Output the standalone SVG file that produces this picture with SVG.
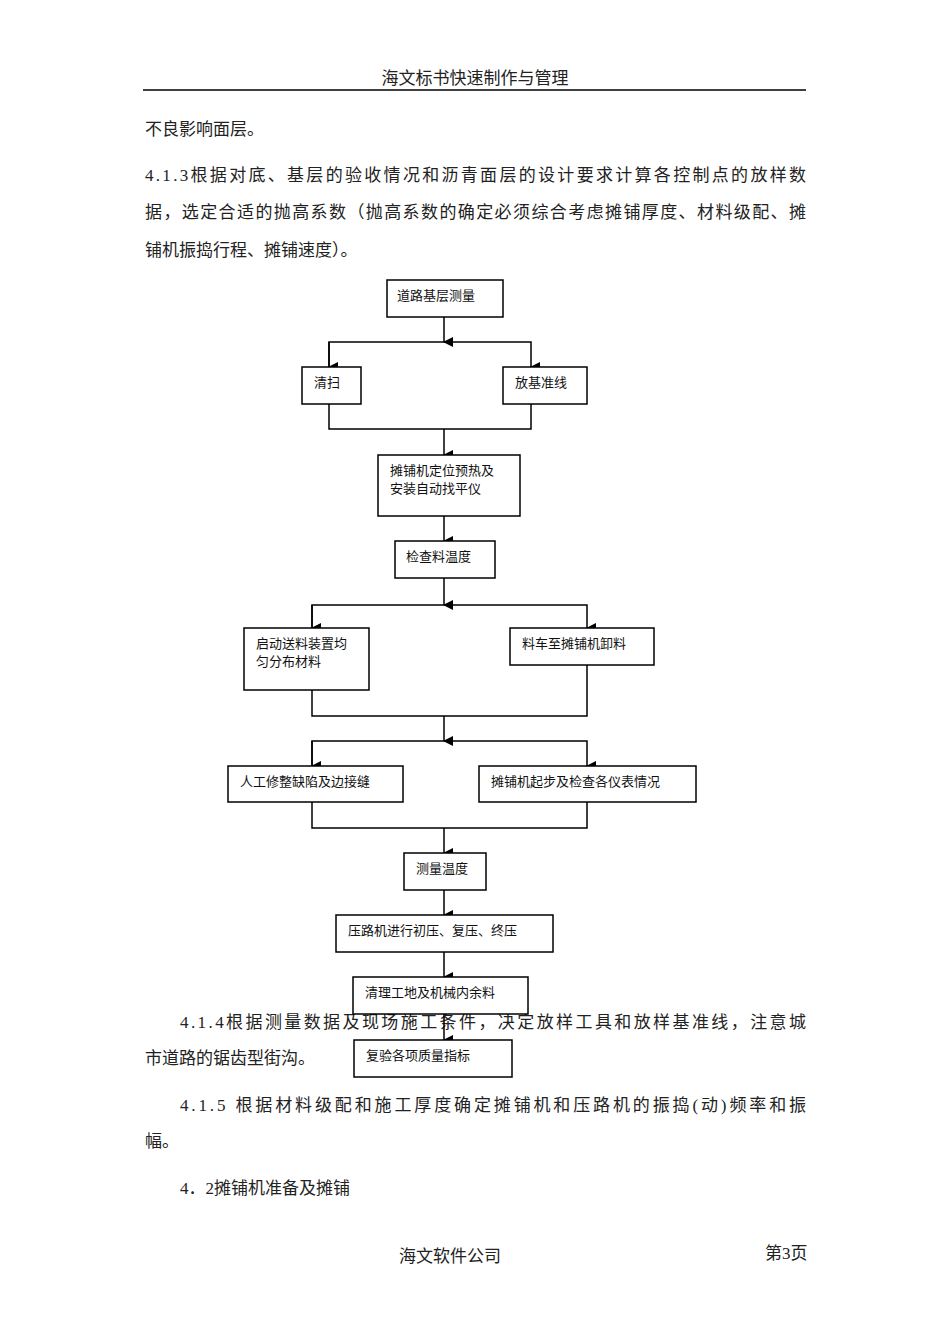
<svg xmlns="http://www.w3.org/2000/svg" width="950" height="1344" viewBox="0 0 950 1344">
<style>
.t{font-family:"Liberation Serif","Noto Sans CJK SC",serif;font-size:17px;fill:#222}
.b rect{fill:#fff;stroke:#000;stroke-width:1.5}
.b text{font-family:"Noto Sans CJK SC",sans-serif;font-size:13px;fill:#111}
#c path{fill:none;stroke:#000;stroke-width:1.5}
</style>
<defs><marker id="a" markerWidth="10" markerHeight="10" refX="5" refY="9" orient="auto" markerUnits="userSpaceOnUse"><path d="M0,0 L10,0 L5,10 Z" fill="#000"/></marker></defs>
<rect width="950" height="1344" fill="#fff"/>
<text class="t" x="475" y="84" text-anchor="middle" font-size="16">海文标书快速制作与管理</text>
<line x1="143" y1="90" x2="806" y2="90" stroke="#000" stroke-width="1.5"/>
<text class="t" x="145" y="135">不良影响面层。</text>
<text class="t" x="145" y="181" textLength="661" lengthAdjust="spacing">4.1.3根据对底、基层的验收情况和沥青面层的设计要求计算各控制点的放样数</text>
<text class="t" x="145" y="218" textLength="661" lengthAdjust="spacing">据，选定合适的抛高系数（抛高系数的确定必须综合考虑摊铺厚度、材料级配、摊</text>
<text class="t" x="145" y="256">铺机振捣行程、摊铺速度）。</text>
<text class="t" x="180" y="1028" textLength="626" lengthAdjust="spacing">4.1.4根据测量数据及现场施工条件，决定放样工具和放样基准线，注意城</text>
<text class="t" x="145" y="1064">市道路的锯齿型街沟。</text>
<text class="t" x="180" y="1111" textLength="626" lengthAdjust="spacing">4.1.5 根据材料级配和施工厚度确定摊铺机和压路机的振捣(动)频率和振</text>
<text class="t" x="145" y="1147">幅。</text>
<text class="t" x="180" y="1194">4．2摊铺机准备及摊铺</text>
<text class="t" x="450" y="1262" text-anchor="middle" font-size="16">海文软件公司</text>
<text class="t" x="765" y="1259" font-size="14">第3页</text>
<g id="c">
<path d="M444,317V342" marker-end="url(#a)"/>
<path d="M329,367V342H531V367" marker-end="url(#a)"/>
<path d="M329,342V367" marker-end="url(#a)"/>
<path d="M329,404V429H531V404M444,429V455" marker-end="url(#a)"/>
<path d="M444,516V541" marker-end="url(#a)"/>
<path d="M444,578V605" marker-end="url(#a)"/>
<path d="M312,628V605H587V628" marker-end="url(#a)"/>
<path d="M312,605V628" marker-end="url(#a)"/>
<path d="M312,690V716H587V665M444,716V741" marker-end="url(#a)"/>
<path d="M312,766V741H587V766" marker-end="url(#a)"/>
<path d="M312,741V766" marker-end="url(#a)"/>
<path d="M312,802V828H587V802M444,828V853" marker-end="url(#a)"/>
<path d="M444,890V915" marker-end="url(#a)"/>
<path d="M444,952V977" marker-end="url(#a)"/>
<path d="M444,1014V1040" marker-end="url(#a)"/>
</g>
<g id="n1" class="b"><rect x="387" y="280" width="116" height="37"/><text x="397" y="300">道路基层测量</text></g>
<g id="n2" class="b"><rect x="302" y="367" width="59" height="37"/><text x="314" y="387">清扫</text></g>
<g id="n3" class="b"><rect x="503" y="367" width="84" height="37"/><text x="515" y="387">放基准线</text></g>
<g id="n4" class="b"><rect x="378" y="455" width="142" height="61"/><text x="390" y="475">摊铺机定位预热及</text><text x="390" y="493">安装自动找平仪</text></g>
<g id="n5" class="b"><rect x="395" y="541" width="100" height="37"/><text x="406" y="561">检查料温度</text></g>
<g id="n6" class="b"><rect x="244" y="628" width="125" height="62"/><text x="256" y="648">启动送料装置均</text><text x="256" y="666">匀分布材料</text></g>
<g id="n7" class="b"><rect x="510" y="628" width="144" height="37"/><text x="522" y="648">料车至摊铺机卸料</text></g>
<g id="n8" class="b"><rect x="228" y="766" width="175" height="36"/><text x="240" y="786">人工修整缺陷及边接缝</text></g>
<g id="n9" class="b"><rect x="479" y="766" width="217" height="36"/><text x="491" y="786">摊铺机起步及检查各仪表情况</text></g>
<g id="n10" class="b"><rect x="404" y="853" width="82" height="37"/><text x="416" y="873">测量温度</text></g>
<g id="n11" class="b"><rect x="336" y="915" width="217" height="37"/><text x="348" y="935">压路机进行初压、复压、终压</text></g>
<g id="n12" class="b"><rect x="353" y="977" width="175" height="37"/><text x="365" y="997">清理工地及机械内余料</text></g>
<g id="n13" class="b"><rect x="354" y="1040" width="158" height="37"/><text x="366" y="1060">复验各项质量指标</text></g>
</svg>
